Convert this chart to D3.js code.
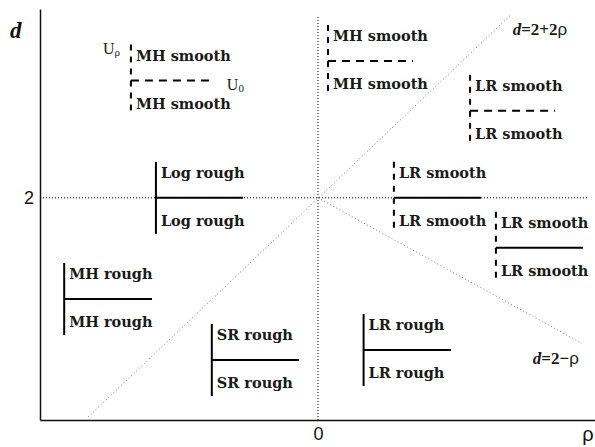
<!DOCTYPE html>
<html>
<head>
<meta charset="utf-8">
<script src="https://cdn.jsdelivr.net/npm/d3@7"></script>
<style>
	body { margin: 0; background: #fff; }
	svg { display: block; }
</style>
</head>
<body>
<div id="chart"></div>
<script>
(function(){
	// regions of the (rho, d) plane
	var regionNames = ["MH smooth", "MH smooth", "LR smooth", "Log rough", "LR smooth", "LR smooth", "MH rough", "SR rough", "LR rough"];
	var regionRho = [-0.673, 0.036, 0.547, -0.583, 0.273, 0.640, -0.913, -0.382, 0.164];
	var regionRhoEnd = [-0.371, 0.342, 0.853, -0.270, 0.586, 0.953, -0.597, -0.068, 0.478];
	var regionD = [3.056, 3.232, 2.784, 2.0, 2.0, 1.551, 1.089, 0.540, 0.630];
	var regionSmooth = [true, true, true, false, true, true, false, false, false];
	var regionUBoundary = [true, true, true, false, false, false, false, false, false];
	var regionHalf = 0.324;

	// boundary lines d = 2 + 2rho and d = 2 - rho (end points)
	var lineUpRho = [-0.827, 0.693];
	var lineUpD = [0.027, 3.646];
	var lineDownRho = [0, 0.949];
	var lineDownD = [2, 0.690];

	var xTicks = [0];
	var xTickLabels = ["0"];
	var yTicks = [2];
	var yTickLabels = ["2"];

	var width = 595, height = 447;
	var x = d3.scaleLinear().domain([-1, 1]).range([40, 596]);
	var y = d3.scaleLinear().domain([0, 3.7]).range([420, 9]);

	var svg = d3.select("#chart")
		.append("svg")
		.attr("width", width)
		.attr("height", height);

	// dotted cross at rho = 0, d = 2
	svg.append("line")
		.attr("x1", x(0)).attr("x2", x(0))
		.attr("y1", y(0)).attr("y2", y(3.646))
		.style("stroke", "#000")
		.style("stroke-width", 1)
		.style("stroke-dasharray", "1,2");
	svg.append("line")
		.attr("x1", x(-1)).attr("x2", x(0.971))
		.attr("y1", y(2)).attr("y2", y(2))
		.style("stroke", "#000")
		.style("stroke-width", 1)
		.style("stroke-dasharray", "1,2");

	// diagonal boundaries
	[[lineUpRho, lineUpD], [lineDownRho, lineDownD]].forEach(function(l){
		svg.append("line")
			.attr("x1", x(l[0][0])).attr("x2", x(l[0][1]))
			.attr("y1", y(l[1][0])).attr("y2", y(l[1][1]))
			.style("stroke", "#7a7a7a")
			.style("stroke-width", 1)
			.style("stroke-dasharray", "1,2.5");
	});

	// axes
	var xAxis = svg.append("g")
		.attr("transform", "translate(0," + y(0) + ")")
		.call(d3.axisBottom(x).tickValues(xTicks).tickFormat(function(d, i){ return xTickLabels[i]; })
			.tickSize(0).tickSizeOuter(0).tickPadding(7));
	var yAxis = svg.append("g")
		.attr("transform", "translate(" + x(-1) + ",0)")
		.call(d3.axisLeft(y).tickValues(yTicks).tickFormat(function(d, i){ return yTickLabels[i]; })
			.tickSize(0).tickSizeOuter(0).tickPadding(6));
	[xAxis, yAxis].forEach(function(a){
		a.select(".domain").style("stroke", "#111").style("stroke-width", 1.5);
		a.selectAll("text")
			.style("font-family", "'Liberation Sans', Arial, sans-serif")
			.style("font-size", "18px")
			.style("fill", "#111");
	});

	svg.append("text")
		.attr("x", 588).attr("y", 441)
		.attr("text-anchor", "middle")
		.style("font-family", "'Liberation Sans', Arial, sans-serif")
		.style("font-size", "20px")
		.style("fill", "#111")
		.text("ρ");
	svg.append("text")
		.attr("x", 10).attr("y", 38)
		.style("font-family", "'Liberation Serif', serif")
		.style("font-size", "23px")
		.style("font-style", "italic")
		.style("font-weight", "bold")
		.style("fill", "#111")
		.text("d");

	// regions
	var region = svg.selectAll(".region")
		.data(regionNames)
		.enter().append("g")
		.attr("class", "region");

	region.append("line")
		.attr("x1", function(d, i){ return x(regionRho[i]); })
		.attr("x2", function(d, i){ return x(regionRho[i]); })
		.attr("y1", function(d, i){ return y(regionD[i] + regionHalf); })
		.attr("y2", function(d, i){ return y(regionD[i] - regionHalf); })
		.style("stroke", "#000")
		.style("stroke-width", 2)
		.style("stroke-dasharray", function(d, i){ return regionSmooth[i] ? "6,6" : null; });

	region.append("line")
		.attr("x1", function(d, i){ return x(regionRho[i]); })
		.attr("x2", function(d, i){ return x(regionRhoEnd[i]); })
		.attr("y1", function(d, i){ return y(regionD[i]); })
		.attr("y2", function(d, i){ return y(regionD[i]); })
		.style("stroke", "#000")
		.style("stroke-width", 2)
		.style("stroke-dasharray", function(d, i){ return regionUBoundary[i] ? "8,6" : null; });

	[-20, 28].forEach(function(off){
		region.append("text")
			.attr("x", function(d, i){ return x(regionRho[i]) + 5; })
			.attr("y", function(d, i){ return y(regionD[i]) + off; })
			.style("font-family", "'DejaVu Serif', serif")
			.style("font-size", "14.5px")
			.style("font-weight", "bold")
			.style("fill", "#1a1a1a")
			.text(function(d){ return d; });
	});

	// U labels beside the first region
	var uStyle = function(t){
		t.style("font-family", "'Liberation Serif', serif")
			.style("font-size", "16px")
			.style("fill", "#1a1a1a");
	};
	var up = svg.append("text")
		.attr("x", x(regionRho[0]) - 28)
		.attr("y", y(regionD[0] + regionHalf) + 9)
		.call(uStyle);
	up.append("tspan").text("U");
	up.append("tspan").attr("dy", 2).style("font-size", "11px").text("ρ");
	var u0 = svg.append("text")
		.attr("x", x(regionRhoEnd[0]) + 12)
		.attr("y", y(regionD[0]) + 9)
		.call(uStyle);
	u0.append("tspan").text("U");
	u0.append("tspan").attr("dy", 2).style("font-size", "11px").text("0");

	// formula labels
	var formula = function(px, py, sign, coef){
		var t = svg.append("text")
			.attr("x", px).attr("y", py)
			.style("font-family", "'Liberation Serif', serif")
			.style("font-size", "17px")
			.style("fill", "#1a1a1a");
		t.append("tspan").style("font-style", "italic").style("font-weight", "bold").text("d");
		t.append("tspan").style("font-weight", "bold").text("=2" + sign + coef);
		t.append("tspan").style("font-family", "'Liberation Sans', sans-serif").text("ρ");
	};
	formula(x(lineUpRho[1]) + 2, y(lineUpD[1]) + 20, "+", "2");
	formula(x(lineDownRho[1]) - 49, y(lineDownD[1]) + 21, "\u2212", "");
})();
</script>
</body>
</html>
